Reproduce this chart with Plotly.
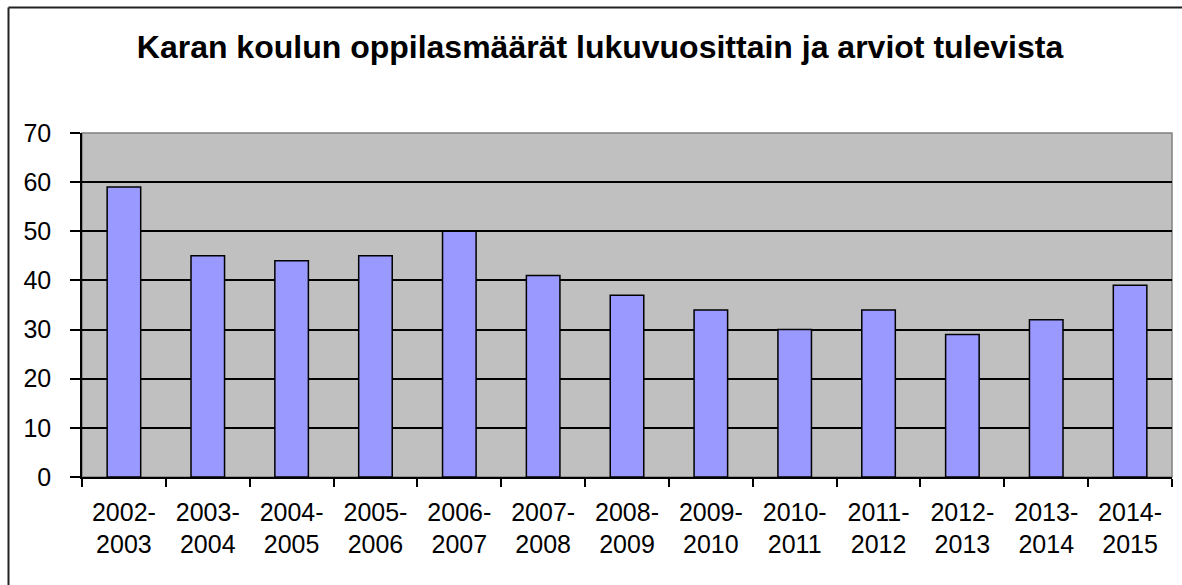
import plotly.graph_objects as go

years = ["2002-<br>2003", "2003-<br>2004", "2004-<br>2005", "2005-<br>2006", "2006-<br>2007",
         "2007-<br>2008", "2008-<br>2009", "2009-<br>2010", "2010-<br>2011", "2011-<br>2012",
         "2012-<br>2013", "2013-<br>2014", "2014-<br>2015"]
students = [59, 45, 44, 45, 50, 41, 37, 34, 30, 34, 29, 32, 39]
y_ticks = [0, 10, 20, 30, 40, 50, 60, 70]
title_text = "Karan koulun oppilasmäärät lukuvuosittain ja arviot tulevista"

W, H = 1182, 585
L, R, T, B = 82, 1172, 133, 477

fig = go.Figure()
fig.add_trace(go.Bar(
    x=years, y=students,
    marker=dict(color="#9999FF", line=dict(color="black", width=1.5)),
    width=0.4,
))

def px_to_paper_x(px):
    return (px - L) / (R - L)

def px_to_paper_y(py):
    return (B - py) / (B - T)

border = dict(color="#222222", width=2)
shapes = [
    # outer chart border: top and left edges (right/bottom lie outside the picture)
    dict(type="line", xref="paper", yref="paper",
         x0=px_to_paper_x(8.5), x1=px_to_paper_x(W),
         y0=px_to_paper_y(7.5), y1=px_to_paper_y(7.5), line=border, layer="below"),
    dict(type="line", xref="paper", yref="paper",
         x0=px_to_paper_x(8.5), x1=px_to_paper_x(8.5),
         y0=px_to_paper_y(7.5), y1=px_to_paper_y(H), line=border, layer="below"),
    # plot area border (gray)
    dict(type="rect", xref="paper", yref="paper", x0=0, x1=1, y0=0, y1=1,
         line=dict(color="#808080", width=1.5), fillcolor="rgba(0,0,0,0)", layer="below"),
]

fig.update_layout(
    width=W, height=H,
    margin=dict(l=L, r=W - R, t=T, b=H - B, pad=0),
    paper_bgcolor="white",
    plot_bgcolor="#C0C0C0",
    font=dict(family="Liberation Sans, Arial, sans-serif", color="black", size=25),
    title=dict(text="<b>" + title_text + "</b>", font=dict(size=32, color="black"),
               x=600 / W, xanchor="center", xref="container",
               y=1 - 47 / H, yanchor="middle", yref="container"),
    showlegend=False,
    shapes=shapes,
    bargap=0.6,
)
fig.update_xaxes(
    type="category",
    showline=True, linecolor="black", linewidth=1.5,
    ticks="outside", ticklen=8, tickcolor="black", tickwidth=1.5,
    tickson="boundaries",
    showgrid=False,
    tickfont=dict(size=25),
    ticklabelstandoff=12,
    automargin=False,
)
fig.update_yaxes(
    range=[0, 70],
    tickvals=y_ticks,
    showline=True, linecolor="black", linewidth=1.5,
    ticks="outside", ticklen=10, tickcolor="black", tickwidth=1.5,
    showgrid=True, gridcolor="black", gridwidth=1.5,
    zeroline=False,
    tickfont=dict(size=25),
    ticklabelstandoff=14,
    automargin=False,
)

fig.write_html(
    "out.html",
    config={"displayModeBar": False},
    post_script="document.body.style.margin='0px';document.body.style.overflow='hidden';",
)
